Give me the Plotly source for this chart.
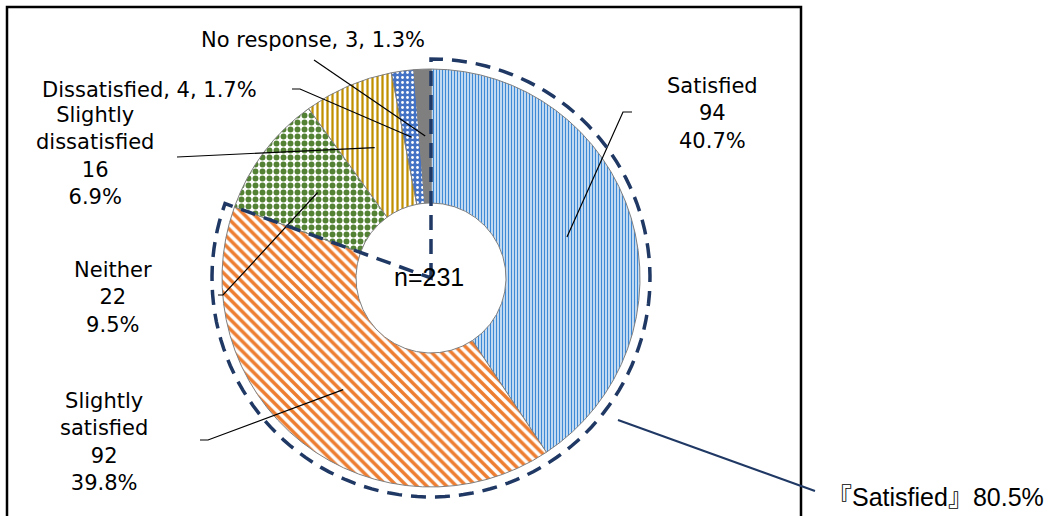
import math

import plotly.graph_objects as go

# respostas da pesquisa (n=231)
CATEGORIAS = ["Satisfied", "Slightly satisfied", "Neither",
              "Slightly dissatisfied", "Dissatisfied", "No response"]
RESPOSTAS = [94, 92, 22, 16, 4, 3]
ROTULOS = ["Satisfied", "Slightly<br>satisfied", "Neither",
           "Slightly<br>dissatisfied", "Dissatisfied", "No response"]
EM_LINHA = [False, False, False, False, True, True]
GRUPO_SATISFEITO = ["Satisfied", "Slightly satisfied"]

W, H = 1048, 516
CX, CY, R = 431, 278, 209
R_FURO = 75
R_TRACO = 219
FONTE = "DejaVu Sans"
AZUL_ESCURO = "#1F3864"

total = sum(RESPOSTAS)
pct = [100 * v / total for v in RESPOSTAS]


def px(x):
    return x / W


def py(y):
    return 1 - y / H


def ponto(frac, raio):
    """Ponto em pixels para uma fração acumulada (0 = 12h, sentido horário)."""
    ang = 2 * math.pi * frac
    return CX + raio * math.sin(ang), CY - raio * math.cos(ang)


padroes = [
    dict(shape="|", fgcolor="#3F8AD6", bgcolor="white", size=3, solidity=0.55),
    dict(shape="\\", fgcolor="#ED7D31", bgcolor="white", size=7, solidity=0.5),
    dict(shape=".", fgcolor="#548235", bgcolor="white", size=7, solidity=0.55),
    dict(shape="|", fgcolor="#C09000", bgcolor="white", size=5, solidity=0.45),
    dict(shape=".", fgcolor="white", bgcolor="#4472C4", size=5, solidity=0.25),
    dict(shape="", fgcolor="#7F7F7F", bgcolor="#7F7F7F"),
]
cores = ["white", "white", "white", "white", "#4472C4", "#7F7F7F"]

fig = go.Figure(
    go.Pie(
        labels=CATEGORIAS,
        values=RESPOSTAS,
        sort=False,
        direction="clockwise",
        rotation=0,
        hole=R_FURO / R,
        textinfo="none",
        showlegend=False,
        marker=dict(
            colors=cores,
            line=dict(color="#7F7F7F", width=1),
            pattern=dict(
                shape=[p["shape"] for p in padroes],
                fgcolor=[p["fgcolor"] for p in padroes],
                bgcolor=[p["bgcolor"] for p in padroes],
                size=[p.get("size", 8) for p in padroes],
                solidity=[p.get("solidity", 1) for p in padroes],
            ),
        ),
        domain=dict(x=[px(CX - R), px(CX + R)], y=[py(CY + R), py(CY - R)]),
    )
)

# posição dos rótulos (centro do texto) e do cotovelo da linha de chamada
POS_ROTULO = [(712, 114), (104, 442), (113, 297), (95, 156), (149, 90), (313, 40)]
COTOVELO = [
    [(623, 112), (632, 112)],
    [(208, 440), (200, 440)],
    [(223, 295), (218, 295)],
    [(177, 157)],
    [(300, 89), (292, 89)],
    [(314, 60)],
]

shapes = []
annotations = []
acum = 0
for i, nome in enumerate(CATEGORIAS):
    meio = (acum + RESPOSTAS[i] / 2) / total
    acum += RESPOSTAS[i]
    x0, y0 = ponto(meio, (R + R_FURO) / 2)
    pts = [(x0, y0)] + COTOVELO[i]
    caminho = "M " + " L ".join(f"{px(x):.5f},{py(y):.5f}" for x, y in pts)
    shapes.append(dict(type="path", xref="paper", yref="paper", path=caminho,
                       line=dict(color="black", width=1.2)))
    if EM_LINHA[i]:
        texto = f"{ROTULOS[i]}, {RESPOSTAS[i]}, {pct[i]:.1f}%"
    else:
        texto = f"{ROTULOS[i]}<br>{RESPOSTAS[i]}<br>{pct[i]:.1f}%"
    lx, ly = POS_ROTULO[i]
    annotations.append(dict(x=px(lx), y=py(ly), xref="paper", yref="paper",
                            text=texto, showarrow=False, xanchor="center",
                            yanchor="middle", align="center",
                            font=dict(family=FONTE, size=21, color="black")))

# contorno tracejado do grupo "satisfeito"
soma_grupo = sum(v for c, v in zip(CATEGORIAS, RESPOSTAS) if c in GRUPO_SATISFEITO)
frac_grupo = soma_grupo / total
arco = [ponto(frac_grupo * k / 120, R_TRACO) for k in range(121)]
caminho = f"M {px(CX):.5f},{py(CY):.5f} " + " ".join(
    f"L {px(x):.5f},{py(y):.5f}" for x, y in arco) + " Z"
shapes.append(dict(type="path", xref="paper", yref="paper", path=caminho,
                   line=dict(color=AZUL_ESCURO, width=3.5, dash="15px,9px")))

# chamada do total do grupo
shapes.append(dict(type="line", xref="paper", yref="paper",
                   x0=px(618), y0=py(420), x1=px(815), y1=py(491),
                   line=dict(color=AZUL_ESCURO, width=2)))
annotations.append(dict(x=px(1046), y=py(497), xref="paper", yref="paper",
                        text=f"『Satisfied』{100 * frac_grupo:.1f}%",
                        showarrow=False, xanchor="right", yanchor="middle",
                        font=dict(family="Liberation Sans, Noto Sans CJK JP",
                                  size=25, color="black")))

annotations.append(dict(x=px(CX - 2), y=py(CY - 1), xref="paper", yref="paper",
                        text=f"n={total}", showarrow=False,
                        xanchor="center", yanchor="middle",
                        font=dict(family="Liberation Sans", size=25, color="black")))

# moldura da área do gráfico
shapes.append(dict(type="rect", xref="paper", yref="paper",
                   x0=px(7), y0=py(540), x1=px(801), y1=py(7),
                   line=dict(color="black", width=2.5), layer="below"))

fig.update_layout(
    width=W,
    height=H,
    margin=dict(l=0, r=0, t=0, b=0),
    paper_bgcolor="white",
    plot_bgcolor="white",
    shapes=shapes,
    annotations=annotations,
)
# a página tem margem padrão de 8px no body; zera para o gráfico ocupar a janela
fig.write_html("out.html", config={"displayModeBar": False},
               post_script="document.body.style.margin = '0';")
